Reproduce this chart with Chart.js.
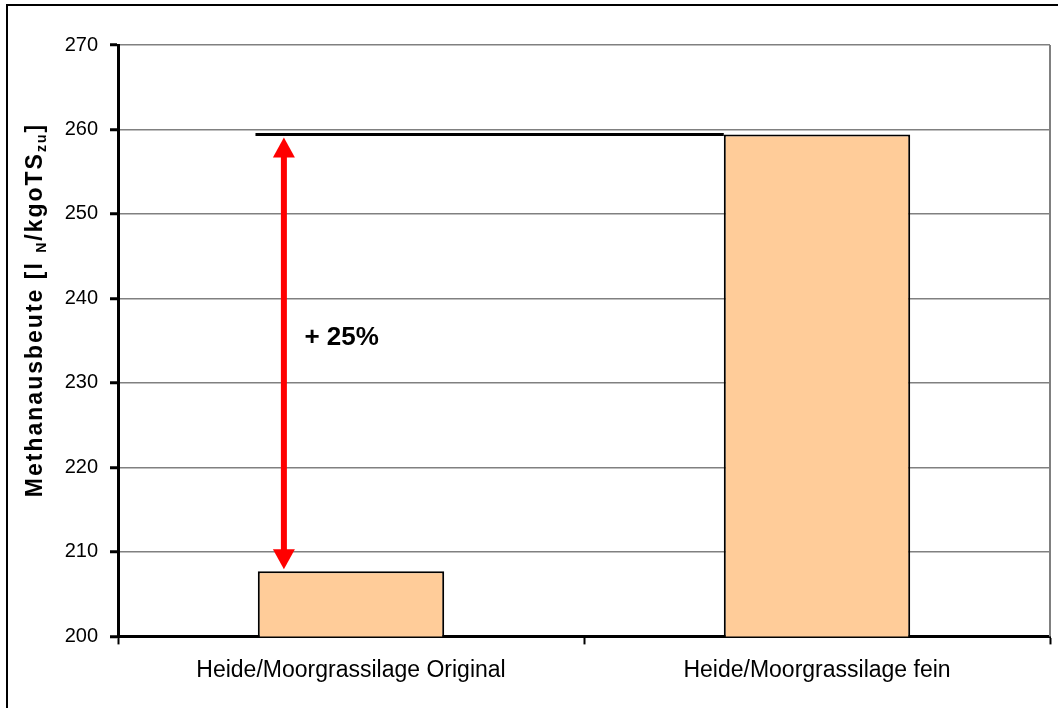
<!DOCTYPE html>
<html lang="de">
<head>
    <meta charset="UTF-8">
    <title>Methanausbeute</title>
    <style>
        html, body { margin: 0; padding: 0; background: #fff; }
        #wrap { width: 1058px; height: 708px; }
    </style>
    <script src="https://cdn.jsdelivr.net/npm/chart.js"></script>
</head>
<body>
    <div id="wrap"><canvas id="myChart" width="1058" height="708"></canvas></div>
    <script>
        const categories = ['Heide/Moorgrassilage Original', 'Heide/Moorgrassilage fein'];
        const methanausbeute = [207.7, 259.4];
        const yTicks = [200, 210, 220, 230, 240, 250, 260, 270];
        const steigerungLabel = '+ 25%';

        // Rahmen, Referenzlinie, Pfeil und Achsentitel
        const extrasPlugin = {
            id: 'extras',
            afterDraw(chart) {
                const ctx = chart.ctx;
                const x = chart.scales.x;
                const y = chart.scales.y;
                const area = chart.chartArea;
                ctx.save();

                // rechter Rand des Plotbereichs
                ctx.strokeStyle = '#808080';
                ctx.lineWidth = 2;
                ctx.beginPath();
                ctx.moveTo(area.right, area.top);
                ctx.lineTo(area.right, area.bottom);
                ctx.stroke();

                // waagerechte Linie auf Höhe des zweiten Balkens
                const yTop = y.getPixelForValue(methanausbeute[1]);
                ctx.strokeStyle = '#000';
                ctx.lineWidth = 3;
                ctx.beginPath();
                ctx.moveTo(x.getPixelForValue(-0.205), yTop);
                ctx.lineTo(x.getPixelForValue(0.8), yTop);
                ctx.stroke();

                // roter Doppelpfeil
                const ax = x.getPixelForValue(-0.144);
                const yA = yTop + 3;
                const yB = y.getPixelForValue(methanausbeute[0]) - 2;
                ctx.fillStyle = '#ff0000';
                ctx.fillRect(ax - 3, yA + 18, 6, yB - yA - 36);
                ctx.beginPath();
                ctx.moveTo(ax, yA);
                ctx.lineTo(ax - 11, yA + 20);
                ctx.lineTo(ax + 11, yA + 20);
                ctx.closePath();
                ctx.fill();
                ctx.beginPath();
                ctx.moveTo(ax, yB);
                ctx.lineTo(ax - 11, yB - 20);
                ctx.lineTo(ax + 11, yB - 20);
                ctx.closePath();
                ctx.fill();

                // Beschriftung
                ctx.fillStyle = '#000';
                ctx.font = 'bold 26px "Liberation Sans", Arial, sans-serif';
                ctx.textAlign = 'left';
                ctx.textBaseline = 'middle';
                ctx.fillText(steigerungLabel, x.getPixelForValue(-0.1), y.getPixelForValue(235.3));

                // Y-Achsentitel mit Indizes
                const parts = [
                    ['Methanausbeute [l ', 23, 0],
                    ['N', 14, 4],
                    ['/kgoTS', 23, 0],
                    ['zu', 14, 4],
                    [']', 23, 0]
                ];
                ctx.letterSpacing = '2px';
                let total = 0;
                parts.forEach(p => {
                    ctx.font = 'bold ' + p[1] + 'px "Liberation Sans", Arial, sans-serif';
                    total += ctx.measureText(p[0]).width;
                });
                ctx.translate(36, 310);
                ctx.rotate(-Math.PI / 2);
                ctx.textBaseline = 'alphabetic';
                let pos = -total / 2;
                parts.forEach(p => {
                    ctx.font = 'bold ' + p[1] + 'px "Liberation Sans", Arial, sans-serif';
                    ctx.fillText(p[0], pos, 6 + p[2]);
                    pos += ctx.measureText(p[0]).width;
                });
                ctx.restore();

                // äußerer Rahmen
                ctx.save();
                ctx.strokeStyle = '#000';
                ctx.lineWidth = 2;
                ctx.strokeRect(7, 5, 1060, 720);
                ctx.restore();
            }
        };

        const ctx = document.getElementById('myChart').getContext('2d');
        new Chart(ctx, {
            type: 'bar',
            data: {
                labels: categories,
                datasets: [{
                    data: methanausbeute,
                    backgroundColor: '#ffcc99',
                    borderColor: '#000',
                    borderWidth: 2,
                    barPercentage: 0.4,
                    categoryPercentage: 1
                }]
            },
            options: {
                responsive: false,
                animation: false,
                layout: { padding: { left: 8, right: 8, top: 45, bottom: 12 } },
                plugins: {
                    legend: { display: false },
                    tooltip: { enabled: false }
                },
                scales: {
                    x: {
                        grid: {
                            offset: true,
                            color: 'rgba(0,0,0,0)',
                            tickColor: '#000',
                            tickWidth: 2,
                            tickLength: 8
                        },
                        border: { color: '#000', width: 3 },
                        ticks: {
                            color: '#000',
                            padding: 12,
                            font: { family: '"Liberation Sans", Arial, sans-serif', size: 23 }
                        }
                    },
                    y: {
                        min: 200,
                        max: 270,
                        afterFit(scale) { scale.width = 110; },
                        afterBuildTicks(scale) {
                            scale.ticks = yTicks.map(v => ({ value: v }));
                        },
                        grid: {
                            color: '#808080',
                            lineWidth: 1.5,
                            tickColor: '#000',
                            tickWidth: 3,
                            tickLength: 8
                        },
                        border: { color: '#000', width: 3 },
                        ticks: {
                            color: '#000',
                            padding: 12,
                            font: { family: '"Liberation Sans", Arial, sans-serif', size: 20 }
                        }
                    }
                }
            },
            plugins: [extrasPlugin]
        });
    </script>
</body>
</html>
